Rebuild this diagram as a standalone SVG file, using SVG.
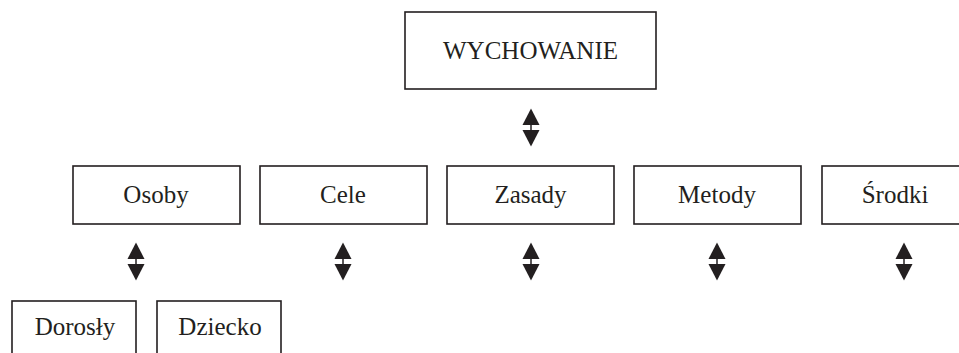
<svg xmlns="http://www.w3.org/2000/svg" xmlns:xlink="http://www.w3.org/1999/xlink" width="959" height="353" viewBox="0 0 959 353">
<style>
.box{fill:#fff;stroke:#231f20;stroke-width:1.6}
.t{font-family:"Liberation Serif","Times New Roman",serif;font-size:25px;fill:#231f20;text-anchor:middle}
.ah{fill:#231f20}
.sh{stroke:#231f20;stroke-width:1.5}
</style>
<defs>
<g id="dbl">
<polygon class="ah" points="0,-19 -8.5,-2.5 8.5,-2.5"/>
<polygon class="ah" points="-8.5,2.5 8.5,2.5 0,19"/>
<line class="sh" x1="0" y1="-3" x2="0" y2="3"/>
</g>
</defs>
<rect width="959" height="353" fill="#fff"/>
<g id="wychowanie"><rect class="box" x="405" y="12" width="251" height="77"/><text class="t" x="530.5" y="59">WYCHOWANIE</text></g>
<g id="osoby"><rect class="box" x="73" y="166" width="167" height="58"/><text class="t" x="156" y="203">Osoby</text></g>
<g id="cele"><rect class="box" x="260" y="166" width="167" height="58"/><text class="t" x="343" y="203">Cele</text></g>
<g id="zasady"><rect class="box" x="447" y="166" width="167" height="58"/><text class="t" x="530.5" y="203">Zasady</text></g>
<g id="metody"><rect class="box" x="634" y="166" width="167" height="58"/><text class="t" x="717" y="203">Metody</text></g>
<g id="srodki"><rect class="box" x="822" y="166" width="150" height="58"/><text class="t" x="895" y="203">Środki</text></g>
<g id="dorosly"><rect class="box" x="12" y="301" width="124" height="70"/><text class="t" x="75" y="335">Dorosły</text></g>
<g id="dziecko"><rect class="box" x="157" y="301" width="124" height="70"/><text class="t" x="220" y="335">Dziecko</text></g>
<g id="connectors">
<use xlink:href="#dbl" x="531" y="127.5"/>
<use xlink:href="#dbl" x="136" y="261.5"/>
<use xlink:href="#dbl" x="343" y="261.5"/>
<use xlink:href="#dbl" x="531" y="261.5"/>
<use xlink:href="#dbl" x="717" y="261.5"/>
<use xlink:href="#dbl" x="904" y="261.5"/>
</g>
</svg>
